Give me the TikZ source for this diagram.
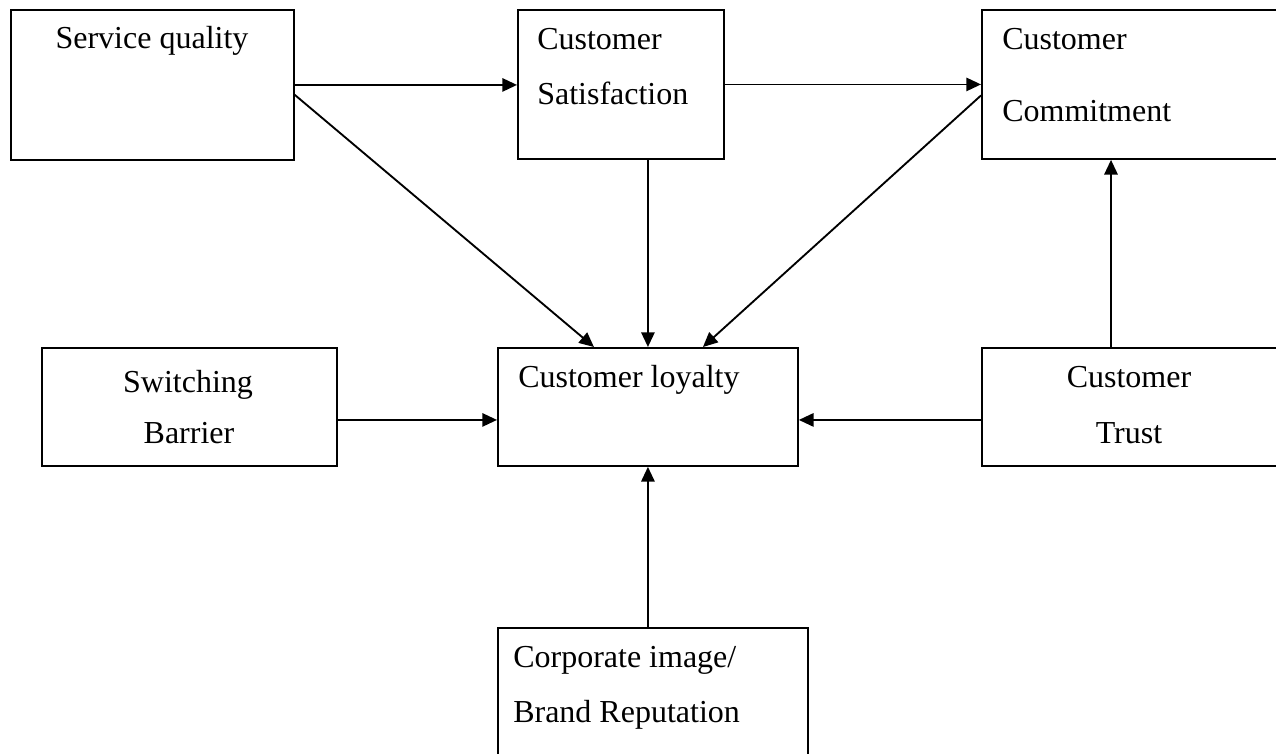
\documentclass[tikz,border=0pt]{standalone}
\usepackage{fontspec}
\setmainfont{Liberation Serif}
\usetikzlibrary{arrows.meta,calc}
\begin{document}
\begin{tikzpicture}[x=0.75pt,y=-0.75pt,
  box/.style={draw,line width=1.4pt,rectangle,inner sep=0pt},
  txt/.style={inner sep=0pt,font=\fontsize{24}{28}\selectfont},
  conn/.style={line width=1.4pt,-{Triangle[length=11pt,width=10pt]}}]
\useasboundingbox (0,0) rectangle (1276,753);
\fill[white] (0,0) rectangle (1276,753);
% boxes
\node[box,anchor=north west,minimum width=283*0.75pt,minimum height=150*0.75pt] (sq) at (10,9) {};
\node[box,anchor=north west,minimum width=206*0.75pt,minimum height=149*0.75pt] (sat) at (517,9) {};
\node[box,anchor=north west,minimum width=330*0.75pt,minimum height=149*0.75pt] (com) at (981,9) {};
\node[box,anchor=north west,minimum width=295*0.75pt,minimum height=118*0.75pt] (sw) at (41,347) {};
\node[box,anchor=north west,minimum width=300*0.75pt,minimum height=118*0.75pt] (loy) at (497,347) {};
\node[box,anchor=north west,minimum width=330*0.75pt,minimum height=118*0.75pt] (tr) at (981,347) {};
\node[box,anchor=north west,minimum width=310*0.75pt,minimum height=160*0.75pt] (corp) at (497,627) {};
% texts
\node[txt,anchor=base] (sqt) at (152,48) {Service quality};
\node[txt,anchor=base west] (satA) at (537,49) {Customer};
\node[txt,anchor=base west] (satB) at (537,104) {Satisfaction};
\node[txt,anchor=base west] (comA) at (1002,49) {Customer};
\node[txt,anchor=base west] (comB) at (1002,121) {Commitment};
\node[txt,anchor=base] (swA) at (188,392) {Switching};
\node[txt,anchor=base] (swB) at (189,443) {Barrier};
\node[txt,anchor=base west] (loyt) at (518,387) {Customer loyalty};
\node[txt,anchor=base] (trA) at (1129,387) {Customer};
\node[txt,anchor=base] (trB) at (1129,443) {Trust};
\node[txt,anchor=base west] (corpA) at (513,667) {Corporate image/};
\node[txt,anchor=base west] (corpB) at (513,722) {Brand Reputation};
% connector end points
\coordinate (sqd) at ($(sq.east)+(0,10)$);
\coordinate (loyl) at ($(loy.north)+(-54,0)$);
\coordinate (comd) at ($(com.west)+(0,11)$);
\coordinate (loyr) at ($(loy.north)+(55,0)$);
\coordinate (trtop) at ($(tr.north west)+(130,0)$);
\coordinate (trw) at ($(tr.west)+(0,13)$);
\coordinate (loye) at ($(loy.east)+(0,13)$);
\coordinate (swe) at ($(sw.east)+(0,13)$);
\coordinate (loyw) at ($(loy.west)+(0,13)$);
% connectors
\draw[conn] (sq.east) -- (sq.east -| sat.west);
\draw[conn] (sat.east) -- (sat.east -| com.west);
\draw[conn] (sqd) -- (loyl);
\draw[conn] (sat.south -| loy.north) -- (loy.north);
\draw[conn] (comd) -- (loyr);
\draw[conn] (trtop) -- (trtop |- com.south);
\draw[conn] (trw) -- (loye);
\draw[conn] (swe) -- (loyw);
\draw[conn] (corp.north -| loy.south) -- (loy.south);
\end{tikzpicture}
\end{document}
